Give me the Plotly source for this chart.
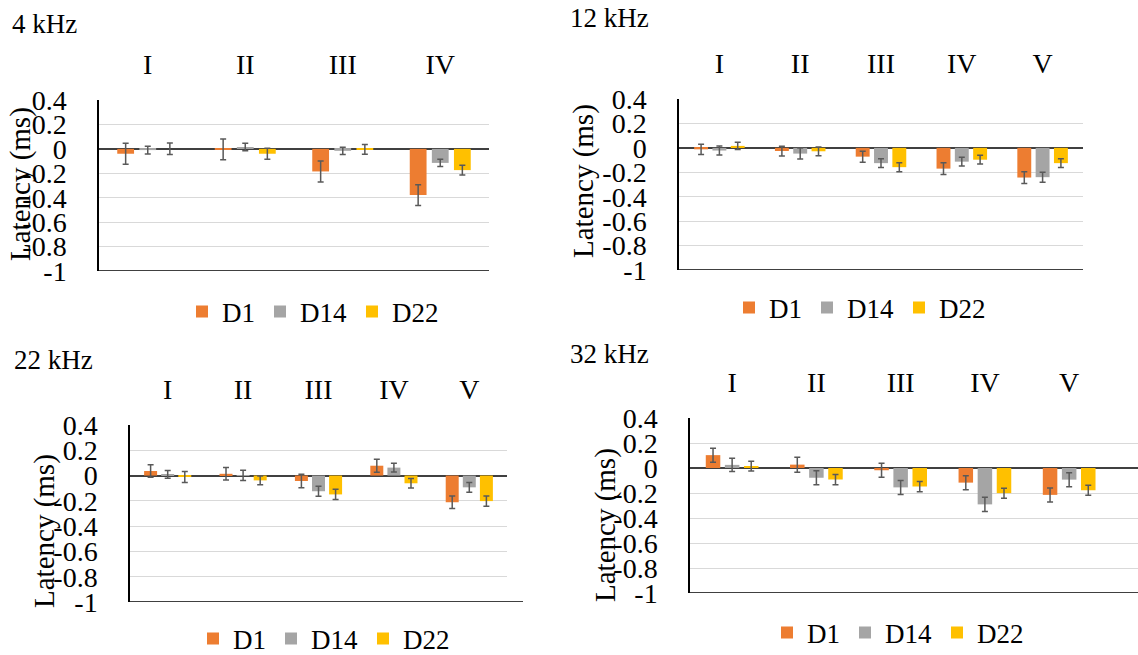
import plotly.graph_objects as go

# ---------------- data ----------------
cats_4 = ["I", "II", "III", "IV"]
cats_5 = ["I", "II", "III", "IV", "V"]
series_names = ["D1", "D14", "D22"]
ytick_vals = [-1, -0.8, -0.6, -0.4, -0.2, 0, 0.2, 0.4]
ytick_text = ["-1", "-0.8", "-0.6", "-0.4", "-0.2", "0", "0.2", "0.4"]

# 4 kHz
khz4_d1 = [-0.04, -0.005, -0.185, -0.378]
khz4_d1_err = [0.085, 0.085, 0.086, 0.085]
khz4_d14 = [-0.01, 0.015, -0.016, -0.115]
khz4_d14_err = [0.032, 0.03, 0.03, 0.03]
khz4_d22 = [0.0, -0.04, -0.005, -0.174]
khz4_d22_err = [0.047, 0.045, 0.04, 0.04]

# 12 kHz
khz12_d1 = [-0.012, -0.026, -0.072, -0.17, -0.243]
khz12_d1_err = [0.042, 0.04, 0.045, 0.048, 0.048]
khz12_d14 = [-0.022, -0.047, -0.125, -0.113, -0.24]
khz12_d14_err = [0.037, 0.045, 0.036, 0.036, 0.041]
khz12_d22 = [0.016, -0.028, -0.158, -0.097, -0.125]
khz12_d22_err = [0.03, 0.036, 0.037, 0.036, 0.036]

# 22 kHz
khz22_d1 = [0.036, 0.014, -0.043, 0.078, -0.211]
khz22_d1_err = [0.05, 0.05, 0.054, 0.051, 0.05]
khz22_d14 = [0.01, 0.002, -0.124, 0.063, -0.093]
khz22_d14_err = [0.031, 0.04, 0.04, 0.035, 0.038]
khz22_d22 = [-0.011, -0.038, -0.149, -0.061, -0.202]
khz22_d22_err = [0.043, 0.034, 0.04, 0.038, 0.04]

# 32 kHz
khz32_d1 = [0.103, 0.027, -0.018, -0.117, -0.215]
khz32_d1_err = [0.056, 0.06, 0.056, 0.056, 0.056]
khz32_d14 = [0.025, -0.078, -0.155, -0.291, -0.093]
khz32_d14_err = [0.053, 0.056, 0.056, 0.057, 0.056]
khz32_d22 = [0.015, -0.092, -0.148, -0.201, -0.178]
khz32_d22_err = [0.039, 0.041, 0.041, 0.04, 0.04]

panel_titles = ["4 kHz", "12 kHz", "22 kHz", "32 kHz"]

# ---------------- styling / layout ----------------
W, H = 1138, 655
FONT = "Liberation Serif, Times New Roman, serif"
colors = ["#ED7D31", "#A5A5A5", "#FFC000"]
ERR_COLOR = "#595959"
TICK_SIZE = 28
CAT_SIZE = 28
TITLE_SIZE = 27
YTITLE_SIZE = 29
LEG_SIZE = 27

def px_x(x):
    return x / W

def px_y(y):
    return 1 - y / H

panels = [
    dict(cats=cats_4, vals=[khz4_d1, khz4_d14, khz4_d22],
         errs=[khz4_d1_err, khz4_d14_err, khz4_d22_err],
         box=(99, 489, 100, 271), xr=[-0.5, 3.5],
         title_pos=(10, 24), ytitle_pos=(20, 184), legend_pos=(313, 312)),
    dict(cats=cats_5, vals=[khz12_d1, khz12_d14, khz12_d22],
         errs=[khz12_d1_err, khz12_d14_err, khz12_d22_err],
         box=(679, 1083, 99, 270), xr=[-0.5, 4.5],
         title_pos=(568, 18), ytitle_pos=(583, 181), legend_pos=(860, 308)),
    dict(cats=cats_5, vals=[khz22_d1, khz22_d14, khz22_d22],
         errs=[khz22_d1_err, khz22_d14_err, khz22_d22_err],
         box=(130, 507, 425, 602), xr=[-0.5, 4.5],
         title_pos=(12, 360), ytitle_pos=(44, 531), legend_pos=(324, 639)),
    dict(cats=cats_5, vals=[khz32_d1, khz32_d14, khz32_d22],
         errs=[khz32_d1_err, khz32_d14_err, khz32_d22_err],
         box=(690, 1138, 418, 593), xr=[-0.5, 4.817],
         title_pos=(568, 354), ytitle_pos=(605, 525), legend_pos=(898, 633)),
]

fig = go.Figure()
layout = dict(
    width=W, height=H, margin=dict(l=0, r=0, t=0, b=0, autoexpand=False),
    paper_bgcolor="white", plot_bgcolor="white",
    barmode="group", bargap=0.32, bargroupgap=0.24,
    font=dict(family=FONT, color="black", size=TICK_SIZE),
    annotations=[], shapes=[],
)

for i, p in enumerate(panels):
    n = "" if i == 0 else str(i + 1)
    xa, ya = "x" + n, "y" + n
    leg = "legend" + n
    x0, x1, y0, y1 = p["box"]
    for s in range(3):
        fig.add_trace(go.Bar(
            x=p["cats"], y=p["vals"][s], name=series_names[s],
            marker=dict(color=colors[s], line=dict(width=0)),
            error_y=dict(type="data", array=p["errs"][s], visible=True,
                         color=ERR_COLOR, thickness=1.5, width=3),
            xaxis=xa, yaxis=ya, legend=leg,
        ))
    layout["xaxis" + n] = dict(
        domain=[px_x(x0), px_x(x1)], anchor=ya, side="top",
        type="category", range=p["xr"], automargin=False,
        showgrid=False, showline=False, zeroline=False,
        ticks="outside", ticklen=14, tickcolor="rgba(0,0,0,0)",
        tickfont=dict(size=CAT_SIZE, family=FONT, color="black"),
        fixedrange=True,
    )
    layout["yaxis" + n] = dict(
        domain=[px_y(y1), px_y(y0)], anchor=xa, automargin=False,
        range=[-1, 0.4], tickvals=ytick_vals, ticktext=ytick_text,
        showgrid=True, gridcolor="#D9D9D9", gridwidth=1,
        showline=True, linecolor="black", linewidth=1.5,
        zeroline=True, zerolinecolor="#404040", zerolinewidth=1.5,
        ticks="", ticklabelstandoff=25,
        tickfont=dict(size=TICK_SIZE, family=FONT, color="black"),
        fixedrange=True,
    )
    # bottom axis line
    x_end = 523 if i == 2 else x1
    layout["shapes"].append(dict(
        type="line", xref="paper", yref=ya, x0=px_x(x0), x1=px_x(x_end),
        y0=-1, y1=-1, line=dict(color="black", width=1.5)))
    # panel title
    tx, ty = p["title_pos"]
    layout["annotations"].append(dict(
        text=panel_titles[i], xref="paper", yref="paper",
        x=px_x(tx), y=px_y(ty), xanchor="left", yanchor="middle",
        showarrow=False, font=dict(size=TITLE_SIZE, family=FONT, color="black")))
    # y axis title
    ax_, ay_ = p["ytitle_pos"]
    layout["annotations"].append(dict(
        text="Latency (ms)", xref="paper", yref="paper",
        x=px_x(ax_), y=px_y(ay_), xanchor="center", yanchor="middle",
        textangle=-90, showarrow=False,
        font=dict(size=YTITLE_SIZE, family=FONT, color="black")))
    # legend
    lx, ly = p["legend_pos"]
    layout[leg] = dict(
        orientation="h", x=px_x(lx), y=px_y(ly),
        xanchor="center", yanchor="middle",
        bgcolor="rgba(0,0,0,0)", itemwidth=30,
        font=dict(size=LEG_SIZE, family=FONT, color="black"),
        traceorder="normal",
    )

fig.update_layout(**layout)
fig.write_html("out.html", config={"displayModeBar": False})
